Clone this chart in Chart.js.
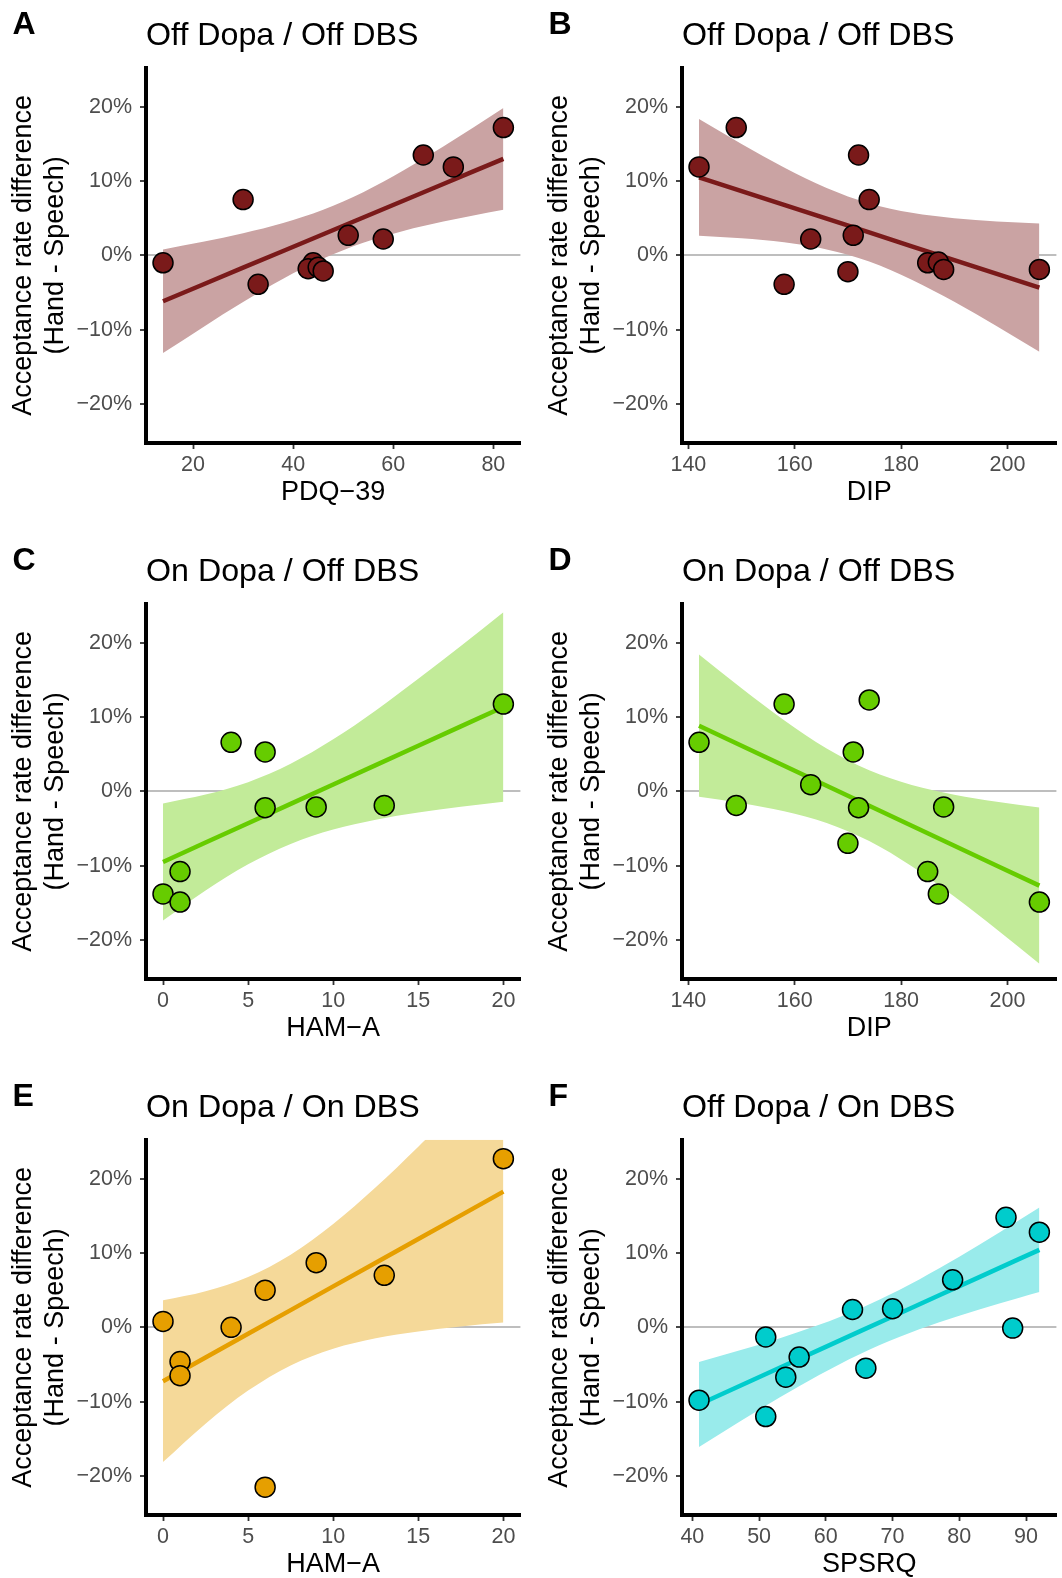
<!DOCTYPE html>
<html>
<head>
<meta charset="utf-8">
<script src="https://cdn.jsdelivr.net/npm/chart.js@4/dist/chart.umd.min.js"></script>
<style>
  html, body { margin: 0; padding: 0; background: #fff; overflow: hidden; width: 1062px; height: 1578px; }
  canvas { position: absolute; }
  .tag { position: absolute; font: bold 32px "Liberation Sans", Arial, sans-serif; line-height: 32px; color: #000; }
</style>
</head>
<body>
<script>
// all y values are acceptance rate differences in percent (hand - speech)
const yTicks = [-20, -10, 0, 10, 20];

// A: off dopa / off DBS vs PDQ-39
const pdqTicks = [20, 40, 60, 80];
const pdqScore = [14, 30, 33, 44, 43, 45, 46, 51, 58, 66, 72, 82];
const offOffPdq = [-1.0, 7.5, -3.9, -1.0, -1.8, -1.6, -2.1, 2.7, 2.2, 13.5, 11.9, 17.2];
const bandXA = [14, 22, 30, 38, 46, 54, 62, 70, 76, 82];
const fitA = [-6.17, -3.92, -1.66, 0.59, 2.84, 5.09, 7.35, 9.60, 11.29, 12.98];
const loA = [-13.14, -9.66, -6.29, -3.16, -0.44, 1.69, 3.29, 4.55, 5.37, 6.14];
const hiA = [0.80, 1.82, 2.97, 4.34, 6.12, 8.49, 11.41, 14.65, 17.21, 19.82];

// B: off dopa / off DBS vs DIP
const dipTicks = [140, 160, 180, 200];
const dipScore = [142, 149, 158, 163, 170, 171, 172, 174, 185, 187, 188, 206];
const offOffDip = [11.9, 17.2, -3.9, 2.2, -2.2, 2.7, 13.5, 7.5, -1.0, -0.9, -1.9, -1.9];
const bandXDip = [142, 150, 158, 166, 174, 182, 190, 198, 206];
const fitB = [10.5, 8.64, 6.79, 4.93, 3.08, 1.22, -0.63, -2.49, -4.34];
const loB = [2.64, 2.29, 1.75, 0.80, -0.83, -3.28, -6.26, -9.55, -12.97];
const hiB = [18.36, 14.99, 11.83, 9.06, 6.99, 5.72, 5.00, 4.57, 4.29];

// C: on dopa / off DBS vs HAM-A
const hamTicks = [0, 5, 10, 15, 20];
const hamScore = [0, 1, 1, 4, 6, 6, 9, 13, 20];
const onOffHam = [-13.8, -10.8, -14.9, 6.6, 5.3, -2.2, -2.1, -1.9, 11.75];
const bandXHam = [0, 2.5, 5, 7.5, 10, 12.5, 15, 17.5, 20];
const fitC = [-9.5, -6.89, -4.29, -1.68, 0.93, 3.53, 6.14, 8.74, 11.35];
const loC = [-17.38, -13.34, -9.82, -7.07, -5.14, -3.83, -2.86, -2.08, -1.41];
const hiC = [-1.62, -0.44, 1.24, 3.71, 7.00, 10.89, 15.14, 19.56, 24.11];

// D: on dopa / off DBS vs DIP
const onOffDip = [6.6, -1.9, 11.75, 0.9, -7.0, 5.3, -2.2, 12.3, -10.8, -13.8, -2.1, -14.9];
const fitD = [8.83, 6.14, 3.45, 0.76, -1.93, -4.62, -7.31, -10.00, -12.69];
const loD = [-0.74, -1.59, -2.68, -4.26, -6.69, -10.09, -14.16, -18.59, -23.20];
const hiD = [18.40, 13.87, 9.58, 5.78, 2.83, 0.85, -0.46, -1.41, -2.18];

// E: on dopa / on DBS vs HAM-A
const onOnHam = [0.8, -4.6, -6.5, 0.0, 5.0, -21.5, 8.7, 7.0, 22.7];
const fitE = [-7.25, -4.06, -0.87, 2.32, 5.51, 8.69, 11.88, 15.07, 18.26];
const loE = [-18.13, -12.97, -8.51, -5.12, -2.88, -1.47, -0.55, 0.12, 0.64];
const hiE = [3.63, 4.85, 6.77, 9.76, 13.90, 18.85, 24.31, 30.02, 35.88];

// F: off dopa / on DBS vs SPSRQ
const spsrqTicks = [40, 50, 60, 70, 80, 90];
const spsrqScore = [41, 51, 51, 54, 56, 64, 66, 70, 79, 87, 88, 92];
const offOnSpsrq = [-9.8, -1.3, -12.0, -6.7, -4.0, 2.4, -5.5, 2.5, 6.4, 14.8, -0.1, 12.8];
const bandXF = [41, 47, 53, 59, 65, 71, 77, 83, 89, 92];
const fitF = [-10.38, -7.93, -5.48, -3.03, -0.58, 1.86, 4.31, 6.76, 9.21, 10.43];
const loF = [-16.10, -12.73, -9.47, -6.40, -3.64, -1.30, 0.68, 2.41, 3.99, 4.74];
const hiF = [-4.66, -3.13, -1.49, 0.34, 2.48, 5.02, 7.94, 11.11, 14.43, 16.12];

const red = ['#7A1A1A', '#CAA3A3'];
const green = ['#66CC00', '#C2EB99'];
const orange = ['#E69F00', '#F5D999'];
const cyan = ['#00CCCC', '#99EBEB'];

const panels = [
  {tag: 'A', title: 'Off Dopa / Off DBS', xLabel: 'PDQ\u221239', xTicks: pdqTicks, x: pdqScore, y: offOffPdq, bx: bandXA, fit: fitA, lo: loA, hi: hiA, col: red},
  {tag: 'B', title: 'Off Dopa / Off DBS', xLabel: 'DIP', xTicks: dipTicks, x: dipScore, y: offOffDip, bx: bandXDip, fit: fitB, lo: loB, hi: hiB, col: red},
  {tag: 'C', title: 'On Dopa / Off DBS', xLabel: 'HAM\u2212A', xTicks: hamTicks, x: hamScore, y: onOffHam, bx: bandXHam, fit: fitC, lo: loC, hi: hiC, col: green},
  {tag: 'D', title: 'On Dopa / Off DBS', xLabel: 'DIP', xTicks: dipTicks, x: dipScore, y: onOffDip, bx: bandXDip, fit: fitD, lo: loD, hi: hiD, col: green},
  {tag: 'E', title: 'On Dopa / On DBS', xLabel: 'HAM\u2212A', xTicks: hamTicks, x: hamScore, y: onOnHam, bx: bandXHam, fit: fitE, lo: loE, hi: hiE, col: orange},
  {tag: 'F', title: 'Off Dopa / On DBS', xLabel: 'SPSRQ', xTicks: spsrqTicks, x: spsrqScore, y: offOnSpsrq, bx: bandXF, fit: fitF, lo: loF, hi: hiF, col: cyan}
];

Chart.defaults.font.family = '"Liberation Sans", Arial, sans-serif';

const pts = (xs, ys) => xs.map((v, k) => ({x: v, y: ys[k]}));
const fmtPct = v => (v < 0 ? '\u2212' + Math.abs(v) : v) + '%';
const none = 'rgba(0,0,0,0)';

panels.forEach((p, i) => {
  const left = (i % 2) * 536;
  const top = [0, 536, 1072][Math.floor(i / 2)];

  const cv = document.createElement('canvas');
  cv.width = 545;
  cv.height = 535;
  cv.style.left = left + 'px';
  cv.style.top = top + 'px';
  document.body.appendChild(cv);

  const tag = document.createElement('div');
  tag.className = 'tag';
  tag.textContent = p.tag;
  tag.style.left = (left + 12.5) + 'px';
  tag.style.top = (top + 7) + 'px';
  document.body.appendChild(tag);

  // ggplot style 5% expansion of the x range
  const xmin = Math.min(...p.x), xmax = Math.max(...p.x);
  const ex = (xmax - xmin) * 0.05;

  new Chart(cv, {
    type: 'line',
    data: {
      datasets: [
        {data: pts(p.x, p.y), showLine: false, pointRadius: 10, pointBorderWidth: 1.5,
         pointBackgroundColor: p.col[0], pointBorderColor: '#000', order: 0},
        {data: pts(p.bx, p.fit), borderColor: p.col[0], borderWidth: 4.5, pointRadius: 0, order: 1},
        {data: pts(p.bx, p.lo), borderColor: none, borderWidth: 0, pointRadius: 0,
         cubicInterpolationMode: 'monotone', fill: false, order: 2},
        {data: pts(p.bx, p.hi), borderColor: none, borderWidth: 0, pointRadius: 0,
         cubicInterpolationMode: 'monotone', fill: '-1', backgroundColor: p.col[1], order: 2}
      ]
    },
    options: {
      responsive: false,
      animation: false,
      devicePixelRatio: 1,
      events: [],
      layout: {padding: {left: 0, right: 24.6, top: 0, bottom: 0}},
      plugins: {
        legend: {display: false},
        tooltip: {enabled: false},
        title: {
          display: true, text: p.title, align: 'start', fullSize: false, color: '#000',
          font: {size: 32.2, weight: 'normal', lineHeight: 1.2},
          padding: {top: 16.4, bottom: 12.66}
        }
      },
      scales: {
        x: {
          type: 'linear',
          min: xmin - ex,
          max: xmax + ex,
          afterBuildTicks: s => { s.ticks = p.xTicks.map(v => ({value: v})); },
          afterFit: s => { s.height = 92; },
          border: {display: true, color: '#000', width: 4},
          grid: {drawOnChartArea: false, tickLength: 6, tickWidth: 1.8, tickColor: '#333'},
          ticks: {color: '#4D4D4D', font: {size: 21.5}, padding: 3, maxRotation: 0, autoSkip: false},
          title: {display: true, text: p.xLabel, color: '#000', font: {size: 27, lineHeight: 1.16},
                  padding: {top: 0, bottom: 27}}
        },
        y: {
          type: 'linear',
          min: -25.25,
          max: 25.25,
          afterBuildTicks: s => { s.ticks = yTicks.map(v => ({value: v})); },
          afterFit: s => { s.width = 146; },
          border: {display: true, color: '#000', width: 4},
          grid: {
            color: c => (c.tick && c.tick.value === 0 ? '#BEBEBE' : none),
            lineWidth: 2, tickLength: 6, tickWidth: 1.8, tickColor: '#333'
          },
          ticks: {color: '#4D4D4D', font: {size: 21.5}, padding: 8, callback: fmtPct},
          title: {display: true, text: ['Acceptance rate difference', '(Hand - Speech)'], color: '#000',
                  font: {size: 27, lineHeight: 1.16}, padding: {top: 8.2, bottom: 0}}
        }
      }
    }
  });
});
</script>
</body>
</html>
